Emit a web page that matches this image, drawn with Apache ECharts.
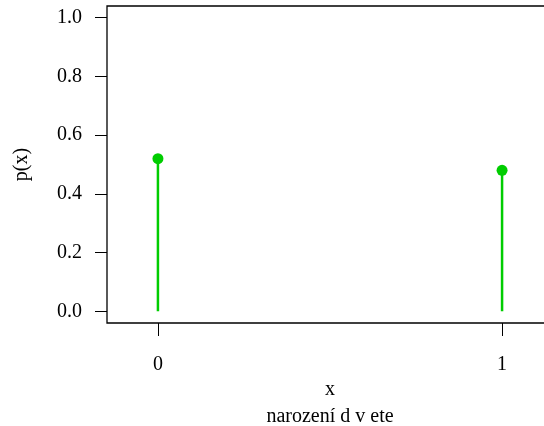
<!DOCTYPE html>
<html>
<head>
<meta charset="utf-8">
<script src="https://cdn.jsdelivr.net/npm/echarts@6/dist/echarts.min.js"></script>
<style>
  html, body { margin: 0; padding: 0; background: #fff; overflow: hidden; }
  #chart { width: 562px; height: 426px; }
</style>
</head>
<body>
<div id="chart"></div>
<script>
// Probability mass function of a two-valued variable
const outcomes = [0, 1];
const probabilities = [0.52, 0.48];
const xTicks = [0, 1];
const yTicks = [0, 0.2, 0.4, 0.6, 0.8, 1.0];
const xTitle = 'x';
const yTitle = 'p(x)';
const caption = 'narození d v ete';

const serif = '"Liberation Serif", "DejaVu Serif", serif';
const stemColor = '#00CD00';
const fontPx = 20;

const points = outcomes.map((x, i) => [x, probabilities[i]]);

// The plotting frame runs a little past the right edge of the window
const chart = echarts.init(document.getElementById('chart'), null, { renderer: 'canvas' });
chart.setOption({
  animation: false,
  backgroundColor: '#ffffff',
  grid: {
    left: 107, top: 6, right: 9, bottom: 103,
    show: true, borderColor: '#000', borderWidth: 1.3, backgroundColor: 'transparent'
  },
  xAxis: {
    type: 'value',
    min: -0.148, max: 1.148,
    splitLine: { show: false },
    axisLine: { show: false, onZero: false },
    axisTick: { show: true, inside: false, length: 13, customValues: xTicks, lineStyle: { color: '#000', width: 1 } },
    axisLabel: { customValues: xTicks, color: '#000', fontFamily: serif, fontSize: fontPx, margin: 32 },
    name: xTitle, nameLocation: 'middle', nameGap: 53,
    nameTextStyle: { color: '#000', fontFamily: serif, fontSize: fontPx }
  },
  yAxis: {
    type: 'value',
    min: -0.04, max: 1.04,
    splitLine: { show: false },
    axisLine: { show: false, onZero: false },
    axisTick: { show: true, inside: false, length: 12, customValues: yTicks, lineStyle: { color: '#000', width: 1 } },
    axisLabel: {
      customValues: yTicks, color: '#000', fontFamily: serif, fontSize: fontPx, margin: 25,
      formatter: v => v.toFixed(1)
    },
    name: yTitle, nameLocation: 'middle', nameGap: 75, nameRotate: 90,
    nameTextStyle: { color: '#000', fontFamily: serif, fontSize: fontPx }
  },
  graphic: [{
    type: 'text', x: 330, y: 417,
    style: { text: caption, fill: '#000', font: fontPx + 'px ' + serif, textAlign: 'center', textVerticalAlign: 'middle' }
  }],
  series: [
    {
      type: 'bar', data: points, barWidth: 2.5,
      itemStyle: { color: stemColor, opacity: 1 }, silent: true
    },
    {
      type: 'scatter', data: points, symbol: 'circle', symbolSize: 11,
      itemStyle: { color: stemColor, opacity: 1 }, silent: true
    }
  ]
});
</script>
</body>
</html>
